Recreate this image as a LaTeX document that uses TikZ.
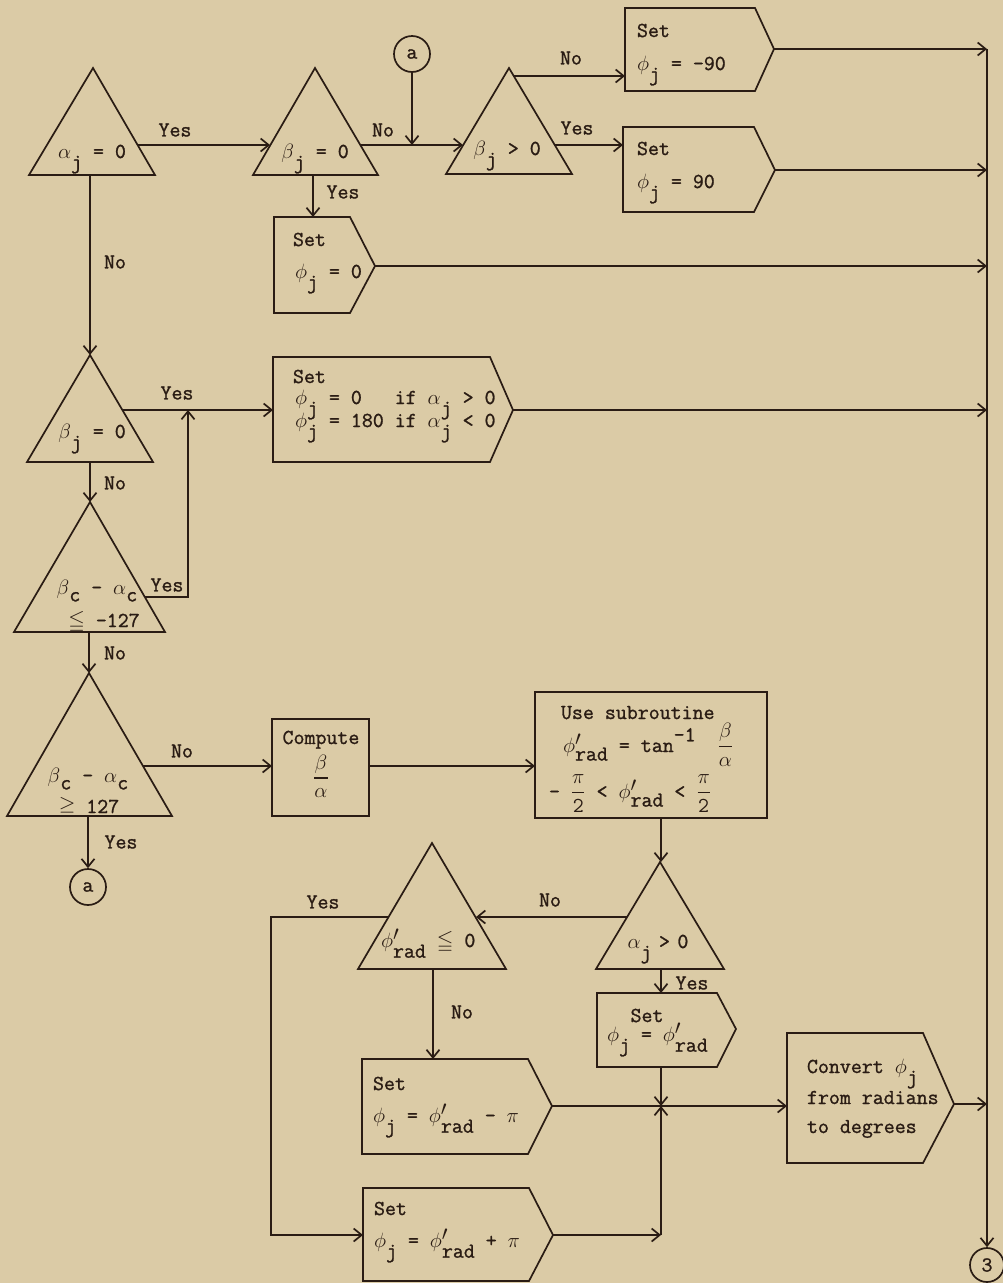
\documentclass[tikz,border=0pt]{standalone}
\usepackage{amsmath,amssymb}
\usepackage{fontspec}
\usetikzlibrary{arrows.meta}
\newfontfamily\twfont{Latin Modern Mono}[FakeBold=1.2]
\definecolor{paper}{HTML}{DBCBA6}
\definecolor{ink}{HTML}{2A1C14}
\newcommand{\dn}[1]{\raisebox{-0.5em}{#1}}
\newcommand{\dnc}[1]{\raisebox{-0.35em}{#1}}
\newcommand{\phr}{$\phi$\rlap{\raisebox{0.3em}{$\prime$}}\dn{rad}}
\newcommand{\phrs}{$\phi$\rlap{\raisebox{0.3em}{$\prime$}}\raisebox{-0.4em}{rad}}
\newcommand{\phj}{$\phi$\dn{j}}
\newcommand{\fs}{\fontsize{21.3}{25}\selectfont\twfont}
\newcommand{\myfrac}[2]{$\genfrac{}{}{1.3pt}{0}{#1}{#2}$}
\newcommand{\tri}[5]{\draw[shp] (#1,#2) -- (#4,#5) -- (#3,#5) -- cycle;}
\newcommand{\pent}[6]{\draw[shp] (#1,#2) -- (#3,#2) -- (#4,#5) -- (#3,#6) -- (#1,#6) -- cycle;}
\begin{document}
\begin{tikzpicture}[x=1pt,y=-1pt,
  lbl/.style={font=\fs, text=ink, inner sep=0pt, outer sep=0pt},
  shp/.style={draw=ink, line width=1.7pt, line join=miter},
  con/.style={draw=ink, line width=1.7pt},
  arr/.style={con, -{Straight Barb[length=8pt,width=13pt]}},
  circ/.style={draw=ink, line width=1.7pt, circle, minimum size=36pt, inner sep=0pt, font=\fs, text=ink}]
\fill[paper] (0,0) rectangle (1003,1283);
\useasboundingbox (0,0) rectangle (1003,1283);

% ---------- triangles ----------
\tri{93}{68}{29}{155}{175}
\node[lbl,anchor=base] (t1txt) at (92,158) {$\alpha$\dn{j} = 0};
\tri{315}{68}{253}{378}{175}
\node[lbl,anchor=base] (t2txt) at (315,158) {$\beta$\dn{j} = 0};
\tri{509}{68}{446}{572}{174}
\node[lbl,anchor=base] (t3txt) at (507,155) {$\beta$\dn{j} > 0};
\tri{90}{355}{27}{153}{462}
\node[lbl,anchor=base] (t4txt) at (92,438) {$\beta$\dn{j} = 0};
\tri{90}{502}{14}{165}{632}
\node[lbl,anchor=base] (t5a) at (97,594) {$\beta$\dnc{c} - $\alpha$\dnc{c}};
\node[lbl,anchor=base] (t5b) at (104,627) {$\leqq$ -127};
\tri{89}{673}{7}{172}{816}
\node[lbl,anchor=base] (t6a) at (88,782) {$\beta$\dnc{c} - $\alpha$\dnc{c}};
\node[lbl,anchor=base] (t6b) at (89,813) {$\geqq$ 127};
\tri{660}{862}{596}{724}{969}
\node[lbl,anchor=base] (t7txt) at (658,948) {$\alpha$\dn{j}\hspace{0.35em}>\hspace{0.35em}0};
\tri{432}{843}{358}{506}{969}
\node[lbl,anchor=base west] (t8txt) at (381,947) {\phr\ $\leqq$ 0};

% ---------- pentagon boxes ----------
\pent{625}{8}{755}{774}{49}{91}
\node[lbl,anchor=base west] (b1a) at (637,37) {Set};
\node[lbl,anchor=base west] (b1b) at (637,70) {\phj{} = -90};
\pent{623}{127}{754}{775}{170}{212}
\node[lbl,anchor=base west] (b2a) at (637,155) {Set};
\node[lbl,anchor=base west] (b2b) at (637,188) {\phj{} = 90};
\pent{274}{217}{350}{375}{266}{313}
\node[lbl,anchor=base west] (b3a) at (293,246) {Set};
\node[lbl,anchor=base west] (b3b) at (295,278) {\phj{} = 0};
\pent{273}{357}{490}{513}{410}{462}
\node[lbl,anchor=base west] (b4a) at (293,383) {Set};
\node[lbl,anchor=base west] (b4b) at (295,404) {\phj{} = 0\ \ \ if $\alpha$\dn{j} > 0};
\node[lbl,anchor=base west] (b4c) at (295,427) {\phj{} = 180 if $\alpha$\dn{j} < 0};
\pent{597}{993}{717}{736}{1029}{1067}
\node[lbl,anchor=base] (b5a) at (647,1022) {Set};
\node[lbl,anchor=base west] (b5b) at (607,1041) {\phj{} = \phr};
\pent{362}{1059}{528}{552}{1106}{1154}
\node[lbl,anchor=base west] (b6a) at (373,1090) {Set};
\node[lbl,anchor=base west] (b6b) at (373,1122) {\phj{} = \phr{} - $\pi$};
\pent{363}{1188}{529}{553}{1235}{1281}
\node[lbl,anchor=base west] (b7a) at (374,1215) {Set};
\node[lbl,anchor=base west] (b7b) at (374,1247) {\phj{} = \phr{} + $\pi$};
\pent{787}{1033}{923}{954}{1104}{1163}
\node[lbl,anchor=base west] (b8a) at (807,1073) {Convert \phj};
\node[lbl,anchor=base west] (b8b) at (807,1104) {from radians};
\node[lbl,anchor=base west] (b8c) at (807,1133) {to degrees};

% ---------- rectangles ----------
\draw[shp] (272,719) rectangle (369,816);
\node[lbl,anchor=base] (cmpa) at (321,744) {Compute};
\node[lbl] (cmpb) at (321,776) {\myfrac{\beta}{\alpha}};
\draw[shp] (535,692) rectangle (767,818);
\node[lbl,anchor=base west] (suba) at (561,719) {Use subroutine};
\node[lbl,anchor=base west] (subb) at (563,752) {\phrs{} = tan\raisebox{0.5em}{-1}\ \ \myfrac{\beta}{\alpha}};
\node[lbl,anchor=base west] (subc) at (549,798) {- \myfrac{\pi}{\mathtt{2}} < \phrs{} < \myfrac{\pi}{\mathtt{2}}};

% ---------- connectors ----------
\node[circ] (ca1) at (412,54) {a};
\node[circ] (ca2) at (88,887) {a};
\node[circ, minimum size=34pt] (c3) at (987,1265) {3};

\coordinate (t1E) at (138,145);
\coordinate (t2W) at (270,145);
\coordinate (t2E) at (361,145);
\coordinate (t3W) at (463,145);
\coordinate (jA)  at (412,145);
\coordinate (t2S) at (313,175);
\coordinate (b3N) at (313,217);
\coordinate (t3NE) at (514,76);
\coordinate (b1W) at (625,76);
\coordinate (t3E) at (555,145);
\coordinate (b2W) at (623,145);
\coordinate (b1P) at (774,49);
\coordinate (b2P) at (775,170);
\coordinate (b3P) at (375,266);
\coordinate (b4P) at (513,410);
\coordinate (b8P) at (954,1104);
\coordinate (r1) at (987,49);
\coordinate (r2) at (987,170);
\coordinate (r3) at (987,266);
\coordinate (r4) at (987,410);
\coordinate (r5) at (987,1104);
\coordinate (t1S) at (90,175);
\coordinate (t4N) at (90,355);
\coordinate (t4E) at (123,410);
\coordinate (b4W) at (273,410);
\coordinate (t5E) at (145,597);
\coordinate (yk1) at (188,597);
\coordinate (yk2) at (188,410);
\coordinate (t4S) at (90,462);
\coordinate (t5N) at (90,502);
\coordinate (t5S) at (89,632);
\coordinate (t6N) at (89,673);
\coordinate (t6E) at (143,766);
\coordinate (cmpW) at (272,766);
\coordinate (t6S) at (88,816);
\coordinate (cmpE) at (369,766);
\coordinate (subW) at (535,766);
\coordinate (subS) at (661,818);
\coordinate (t7N) at (661,862);
\coordinate (t7W) at (627,917);
\coordinate (t8E) at (476,917);
\coordinate (t8W) at (388,917);
\coordinate (yl1) at (271,917);
\coordinate (yl2) at (271,1235);
\coordinate (b7W) at (363,1235);
\coordinate (t8S) at (433,969);
\coordinate (b6N) at (433,1059);
\coordinate (t7S) at (661,969);
\coordinate (b5N) at (661,993);
\coordinate (b5S) at (661,1067);
\coordinate (jJ)  at (661,1106);
\coordinate (b6P) at (552,1106);
\coordinate (b7P) at (553,1235);
\coordinate (jK)  at (661,1235);
\coordinate (b8W) at (787,1106);

\draw[arr] (t1E) -- (t2W);
\draw[arr] (t2E) -- (t3W);
\draw[arr] (ca1) -- (jA);
\draw[arr] (t2S) -- (b3N);
\draw[arr] (t3NE) -- (b1W);
\draw[arr] (t3E) -- (b2W);
\draw[arr] (b1P) -- (r1);
\draw[arr] (b2P) -- (r2);
\draw[arr] (b3P) -- (r3);
\draw[arr] (b4P) -- (r4);
\draw[arr] (b8P) -- (r5);
\draw[arr] (r1) -- (c3);
\draw[arr] (t1S) -- (t4N);
\draw[arr] (t4E) -- (b4W);
\draw[arr] (t5E) -- (yk1) -- (yk2);
\draw[arr] (t4S) -- (t5N);
\draw[arr] (t5S) -- (t6N);
\draw[arr] (t6E) -- (cmpW);
\draw[arr] (t6S) -- (ca2);
\draw[arr] (cmpE) -- (subW);
\draw[arr] (subS) -- (t7N);
\draw[arr] (t7W) -- (t8E);
\draw[arr] (t8W) -- (yl1) -- (yl2) -- (b7W);
\draw[arr] (t8S) -- (b6N);
\draw[arr] (t7S) -- (b5N);
\draw[arr] (b5S) -- (jJ);
\draw[con] (b6P) -- (jJ);
\draw[arr] (b7P) -- (jK);
\draw[arr] (jK) -- (jJ);
\draw[arr] (jJ) -- (b8W);

% ---------- labels ----------
\node[lbl] (l1) at (175,130) {Yes};
\node[lbl] (l2) at (383,130) {No};
\node[lbl] (l3) at (343,192) {Yes};
\node[lbl] (l4) at (571,58) {No};
\node[lbl] (l5) at (577,128) {Yes};
\node[lbl] (l6) at (115,262) {No};
\node[lbl] (l7) at (177,393) {Yes};
\node[lbl] (l8) at (115,483) {No};
\node[lbl] (l9) at (167,585) {Yes};
\node[lbl] (l10) at (115,653) {No};
\node[lbl] (l11) at (182,751) {No};
\node[lbl] (l12) at (121,842) {Yes};
\node[lbl] (l13) at (323,902) {Yes};
\node[lbl] (l14) at (550,900) {No};
\node[lbl] (l15) at (462,1012) {No};
\node[lbl] (l16) at (692,983) {Yes};
\end{tikzpicture}
\end{document}
